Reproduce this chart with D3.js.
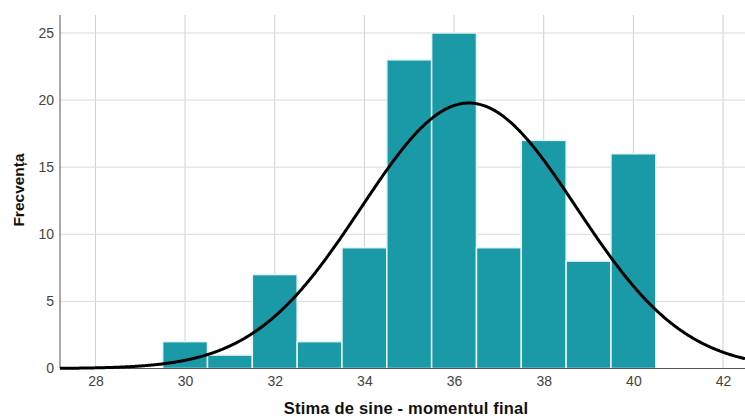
<!DOCTYPE html>
<html>
<head>
<meta charset="utf-8">
<script src="https://cdn.jsdelivr.net/npm/d3@7"></script>
<style>
  html, body { margin: 0; padding: 0; background: #fff; }
  svg { display: block; }
</style>
</head>
<body>
<div id="chart"></div>
<script>
// Histogram bins (bin centres, width 1) and their frequencies
const binCenters = [30, 31, 32, 33, 34, 35, 36, 37, 38, 39, 40];
const frequencies = [2, 1, 7, 2, 9, 23, 25, 9, 17, 8, 16];
const xTicks = [28, 30, 32, 34, 36, 38, 40, 42];
const yTicks = [0, 5, 10, 15, 20, 25];
// Normal curve parameters
const curveMean = [36.33];
const curveSD = [2.40];

const W = 745, H = 416;
const margin = { top: 15, right: 0, bottom: 48, left: 60 };

const svg = d3.select("#chart").append("svg")
  .attr("width", W).attr("height", H);

const x = d3.scaleLinear().domain([27.21, 42.49]).range([margin.left, W - margin.right]);
const y = d3.scaleLinear().domain([0, 26.34]).range([H - margin.bottom + 0.5, margin.top]);

const N = d3.sum(frequencies);
const binWidth = 1;
const font = "Liberation Sans, Arial, sans-serif";

// grid
const g = svg.append("g");
g.selectAll("line.vg").data(xTicks).enter().append("line")
  .attr("x1", d => x(d)).attr("x2", d => x(d))
  .attr("y1", y.range()[1]).attr("y2", y(0))
  .attr("stroke", "#cfcfcf").attr("stroke-width", 1);
g.selectAll("line.hg").data(yTicks.filter(d => d > 0)).enter().append("line")
  .attr("x1", x.range()[0]).attr("x2", x.range()[1])
  .attr("y1", d => y(d)).attr("y2", d => y(d))
  .attr("stroke", "#d9d9d9").attr("stroke-width", 1);

// bars
svg.append("g").selectAll("rect").data(binCenters).enter().append("rect")
  .attr("x", d => x(d - binWidth / 2))
  .attr("width", d => x(d + binWidth / 2) - x(d - binWidth / 2))
  .attr("y", (d, i) => y(frequencies[i]))
  .attr("height", (d, i) => y(0) - y(frequencies[i]))
  .attr("fill", "#1a9aa6")
  .attr("stroke", "#e6f4f5")
  .attr("stroke-width", 1.5);

// axis lines
svg.append("line")
  .attr("x1", x.range()[0]).attr("x2", x.range()[0])
  .attr("y1", y.range()[1]).attr("y2", y(0))
  .attr("stroke", "#555").attr("stroke-width", 1);
svg.append("line")
  .attr("x1", x.range()[0]).attr("x2", x.range()[1])
  .attr("y1", y(0)).attr("y2", y(0))
  .attr("stroke", "#555").attr("stroke-width", 1);

// normal curve
const mu = curveMean[0], sd = curveSD[0];
const pdf = v => N * binWidth / (sd * Math.sqrt(2 * Math.PI)) * Math.exp(-0.5 * ((v - mu) / sd) ** 2);
const curvePts = d3.range(x.domain()[0], x.domain()[1] + 0.001, 0.02).map(v => [v, pdf(v)]);
svg.append("path")
  .datum(curvePts)
  .attr("fill", "none")
  .attr("stroke", "#000")
  .attr("stroke-width", 3)
  .attr("d", d3.line().x(d => x(d[0])).y(d => y(d[1])).curve(d3.curveBasis));

// tick labels
const xAxis = d3.axisBottom(x).tickValues(xTicks).tickSize(0).tickPadding(8).tickFormat(d3.format("d"));
const xa = svg.append("g").attr("transform", `translate(0,${y(0)})`).call(xAxis);
xa.select(".domain").remove();
xa.selectAll("text").attr("font-family", font).attr("font-size", 14).attr("fill", "#444");

const yAxis = d3.axisLeft(y).tickValues(yTicks).tickSize(0).tickPadding(6).tickFormat(d3.format("d"));
const ya = svg.append("g").attr("transform", `translate(${x.range()[0]},0)`).call(yAxis);
ya.select(".domain").remove();
ya.selectAll("text").attr("font-family", font).attr("font-size", 14).attr("fill", "#444");

// axis titles
svg.append("text")
  .attr("x", 406).attr("y", 414)
  .attr("text-anchor", "middle")
  .attr("font-family", font)
  .attr("font-size", 16.5).attr("font-weight", "bold").attr("letter-spacing", 0.2).attr("fill", "#111")
  .text("Stima de sine - momentul final");

svg.append("text")
  .attr("transform", "translate(24,190) rotate(-90)")
  .attr("text-anchor", "middle")
  .attr("font-family", font)
  .attr("font-size", 15.5).attr("font-weight", "bold").attr("fill", "#111")
  .text("Frecvența");
</script>
</body>
</html>
